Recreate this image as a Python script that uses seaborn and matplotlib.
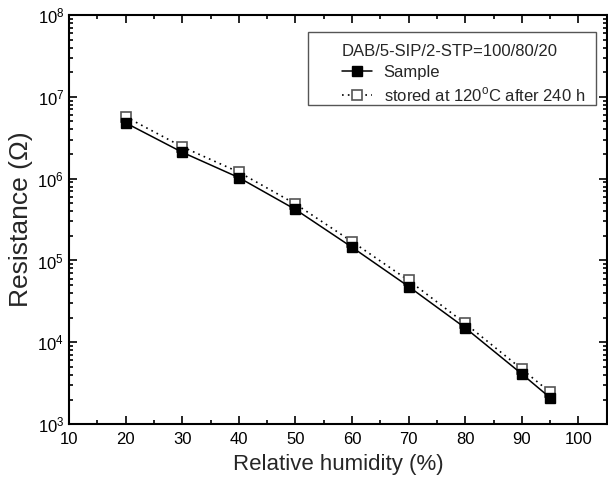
import matplotlib
matplotlib.use("Agg")
import matplotlib.pyplot as plt
import matplotlib.ticker as mticker
from matplotlib.patches import Rectangle
import seaborn as sns
import pandas as pd
import numpy as np

# Data
humidity = [20, 30, 40, 50, 60, 70, 80, 90, 95]
r_sample = [4.8e6, 2.1e6, 1.03e6, 4.2e5, 1.45e5, 4.8e4, 1.5e4, 4.1e3, 2.1e3]
r_stored = [5.7e6, 2.45e6, 1.2e6, 4.9e5, 1.7e5, 5.7e4, 1.7e4, 4.7e3, 2.45e3]

x_ticks = [10, 20, 30, 40, 50, 60, 70, 80, 90, 100]
legend_title = "DAB/5-SIP/2-STP=100/80/20"
labels = ["Sample", "stored at 120$^{\\mathrm{o}}$C after 240 h"]

df_sample = pd.DataFrame({"rh": humidity, "r": r_sample})
df_stored = pd.DataFrame({"rh": humidity, "r": r_stored})

sns.set_style("ticks")
plt.rcParams["font.family"] = ["Liberation Sans", "DejaVu Sans"]
plt.rcParams["mathtext.fontset"] = "custom"
plt.rcParams["mathtext.rm"] = "Liberation Sans"

fig = plt.figure(figsize=(6.08, 4.82), dpi=100)
ax = fig.add_axes([0.1135, 0.12, 0.8845, 0.849])

# stored series drawn first so filled squares sit on top
sns.lineplot(data=df_stored, x="rh", y="r", ax=ax, color="black",
             linestyle=(0, (1, 2.5)), linewidth=1.2, marker="s", markersize=6.5,
             markerfacecolor="white", markeredgecolor="#555555",
             markeredgewidth=1.2, label=labels[1], zorder=2)
sns.lineplot(data=df_sample, x="rh", y="r", ax=ax, color="black",
             linestyle="-", linewidth=1.1, marker="s", markersize=6.5,
             markerfacecolor="black", markeredgecolor="black",
             markeredgewidth=1.0, label=labels[0], zorder=3)

ax.set_yscale("log")
ax.set_xlim(10, 105)
ax.set_ylim(1e3, 1e8)
ax.set_xticks(x_ticks)
ax.xaxis.set_minor_locator(mticker.MultipleLocator(5))
ax.yaxis.set_major_locator(mticker.LogLocator(base=10, numticks=10))
ax.yaxis.set_minor_locator(mticker.LogLocator(base=10, subs=np.arange(2, 10), numticks=20))
ax.yaxis.set_minor_formatter(mticker.NullFormatter())

ax.tick_params(which="both", direction="in", top=True, right=True, labelsize=12,
               colors="black", width=1.2)
ax.tick_params(which="major", length=6)
ax.tick_params(which="minor", length=3)
ax.tick_params(axis="x", which="major", pad=6)

for sp in ax.spines.values():
    sp.set_linewidth(1.5)
    sp.set_color("black")

ax.set_xlabel("Relative humidity (%)", fontsize=16, labelpad=5)
ax.set_ylabel("Resistance (Ω)", fontsize=19, labelpad=3)

# legend frame drawn separately (wide side padding as in the original)
ax.add_patch(Rectangle((0.444, 0.780), 0.536, 0.178, transform=ax.transAxes,
                       facecolor="white", edgecolor="#555555", linewidth=1.0,
                       zorder=4))

handles, labs = ax.get_legend_handles_labels()
order = [1, 0]
leg = ax.legend([handles[i] for i in order], [labs[i] for i in order],
                title=legend_title, title_fontsize=12, fontsize=12,
                loc="upper left", bbox_to_anchor=(0.492, 0.95),
                frameon=False, handlelength=1.8, handletextpad=0.7,
                borderpad=0, labelspacing=0.35, alignment="left")
leg.set_zorder(5)

fig.savefig("out.png", dpi=100)
